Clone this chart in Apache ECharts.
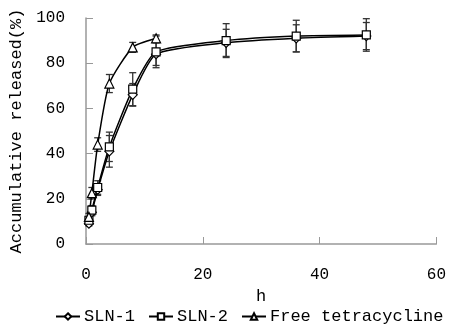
<!DOCTYPE html>
<html>
<head>
<meta charset="utf-8">
<script src="https://cdn.jsdelivr.net/npm/echarts@6/dist/echarts.min.js"></script>
<style>html,body{margin:0;padding:0;background:#fff}#c{width:449px;height:325px}</style>
</head>
<body>
<div id="c"></div>
<script>
var timesSLN = [0.5, 1, 2, 4, 8, 12, 24, 36, 48];
var timesFree = [0.5, 1, 2, 4, 8, 12];
var sln1 = [9, 14, 24, 41, 66, 84, 89, 91, 92];
var sln1Err = [1, 1.5, 2.5, 7, 5, 5, 6, 6, 6];
var sln2 = [10.5, 15, 25, 43, 68.5, 85, 90, 92, 92.5];
var sln2Err = [1.5, 2, 3, 6.5, 7.3, 7, 7.5, 7, 7.2];
var free = [12, 22.5, 44, 71, 87, 91];
var freeErr = [1.5, 2.5, 3, 4, 2.2, 1.5];
var xTicks = [0, 20, 40, 60];
var yTicks = [0, 20, 40, 60, 80, 100];

var FONT = 'Liberation Mono';
function pairs(xs, ys) { return xs.map(function (x, i) { return [x, ys[i]]; }); }
function errData(xs, ys, es) { return xs.map(function (x, i) { return [x, ys[i] - es[i], ys[i] + es[i]]; }); }
function errSeries(name, xs, ys, es) {
  return {
    type: 'custom', name: name, z: 1, silent: true,
    data: errData(xs, ys, es),
    renderItem: function (params, api) {
      var lo = api.coord([api.value(0), api.value(1)]);
      var hi = api.coord([api.value(0), api.value(2)]);
      var w = 3.5;
      var st = { stroke: '#333', lineWidth: 1.3 };
      return { type: 'group', children: [
        { type: 'line', shape: { x1: lo[0], y1: lo[1], x2: hi[0], y2: hi[1] }, style: st },
        { type: 'line', shape: { x1: lo[0] - w, y1: lo[1], x2: lo[0] + w, y2: lo[1] }, style: st },
        { type: 'line', shape: { x1: hi[0] - w, y1: hi[1], x2: hi[0] + w, y2: hi[1] }, style: st }
      ]};
    }
  };
}
function lineSeries(name, xs, ys, symbol, size) {
  return {
    type: 'line', name: name, z: 3, smooth: 0.2,
    data: pairs(xs, ys), symbol: symbol, symbolSize: size, showAllSymbol: true,
    lineStyle: { color: '#000', width: 1.5 },
    itemStyle: { color: '#fff', borderColor: '#000', borderWidth: 1.2 }
  };
}

var chart = echarts.init(document.getElementById('c'), null, { renderer: 'canvas' });
chart.setOption({
  animation: false,
  textStyle: { fontFamily: FONT, color: '#000' },
  grid: { left: 86, right: 11, top: 18, bottom: 81 },
  legend: {
    bottom: -5, left: 50, right: 0, itemGap: 13, itemWidth: 24, itemHeight: 8,
    data: ['SLN-1', 'SLN-2', 'Free tetracycline'],
    textStyle: { fontFamily: FONT, fontSize: 17, color: '#000', padding: [0, 0, 0, -1] }
  },
  xAxis: {
    type: 'value', min: xTicks[0], max: xTicks[xTicks.length - 1], interval: 20,
    name: 'h', nameLocation: 'middle', nameGap: 42,
    nameTextStyle: { fontFamily: FONT, fontSize: 17, color: '#000' },
    axisLine: { lineStyle: { color: '#999', width: 1.5 } },
    axisTick: { inside: true, length: 7, lineStyle: { color: '#999' } },
    axisLabel: { margin: 23, fontFamily: FONT, fontSize: 16, color: '#000' },
    splitLine: { show: false }
  },
  yAxis: {
    type: 'value', min: yTicks[0], max: yTicks[yTicks.length - 1], interval: 20,
    name: 'Accumulative released(%)', nameLocation: 'middle', nameGap: 57,
    nameTextStyle: { fontFamily: FONT, fontSize: 17, color: '#000' },
    axisLine: { show: true, lineStyle: { color: '#999', width: 1.5 } },
    axisTick: { show: true, inside: true, length: 7, lineStyle: { color: '#999' } },
    axisLabel: { margin: 21, fontFamily: FONT, fontSize: 16, color: '#000' },
    splitLine: { show: false }
  },
  series: [
    errSeries('e1', timesSLN, sln1, sln1Err),
    errSeries('e2', timesSLN, sln2, sln2Err),
    errSeries('e3', timesFree, free, freeErr),
    lineSeries('SLN-1', timesSLN, sln1, 'diamond', 9),
    lineSeries('SLN-2', timesSLN, sln2, 'rect', 8),
    lineSeries('Free tetracycline', timesFree, free, 'triangle', 9)
  ]
});
</script>
</body>
</html>
